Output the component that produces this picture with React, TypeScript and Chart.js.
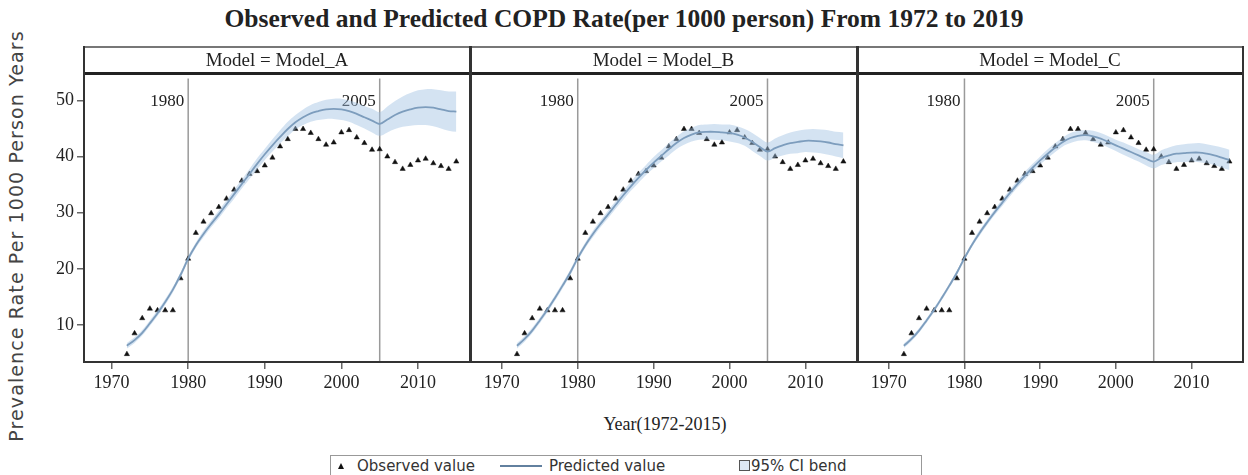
import React, { useEffect, useRef } from "react";
import { Chart, registerables } from "chart.js";

Chart.register(...registerables);

// ---------- data ----------
const years = [
  1972, 1973, 1974, 1975, 1976, 1977, 1978, 1979, 1980, 1981, 1982, 1983, 1984, 1985, 1986,
  1987, 1988, 1989, 1990, 1991, 1992, 1993, 1994, 1995, 1996, 1997, 1998, 1999, 2000, 2001,
  2002, 2003, 2004, 2005, 2006, 2007, 2008, 2009, 2010, 2011, 2012, 2013, 2014, 2015,
];

const observed = [
  4.8, 8.5, 11.2, 12.9, 12.6, 12.6, 12.6, 18.3, 21.8, 26.4, 28.4, 29.9, 31.0, 32.5, 34.1,
  35.7, 36.9, 37.4, 38.4, 39.8, 41.8, 43.1, 44.9, 44.9, 44.2, 43.1, 42.1, 42.5, 44.3, 44.7,
  43.4, 42.4, 41.2, 41.3, 40.0, 39.0, 37.8, 38.5, 39.3, 39.6, 38.8, 38.3, 37.8, 39.1,
];

const predA = [
  6.3, 7.3, 8.6, 10.3, 12.1, 14.1, 16.3, 18.9, 21.8, 24.2, 26.2, 28.0, 29.7, 31.5, 33.3,
  35.1, 36.9, 38.7, 40.4, 42.0, 43.5, 44.9, 46.1, 47.0, 47.7, 48.1, 48.4, 48.5, 48.4, 48.1,
  47.6, 47.0, 46.4, 45.8, 46.6, 47.4, 48.0, 48.4, 48.7, 48.8, 48.7, 48.4, 48.1, 48.0,
];
const lowA = [
  5.8, 6.8, 8.1, 9.8, 11.6, 13.6, 15.8, 18.4, 21.3, 23.7, 25.6, 27.4, 29.0, 30.8, 32.5,
  34.3, 36.0, 37.7, 39.4, 40.9, 42.3, 43.6, 44.8, 45.6, 46.2, 46.5, 46.7, 46.7, 46.5, 46.2,
  45.6, 45.0, 44.3, 43.7, 44.3, 44.9, 45.3, 45.5, 45.6, 45.6, 45.4, 45.0, 44.6, 44.4,
];
const highA = [
  6.8, 7.8, 9.1, 10.8, 12.6, 14.6, 16.8, 19.4, 22.3, 24.7, 26.8, 28.6, 30.4, 32.2, 34.1,
  35.9, 37.8, 39.7, 41.4, 43.1, 44.7, 46.2, 47.4, 48.4, 49.2, 49.7, 50.1, 50.3, 50.3, 50.0,
  49.6, 49.0, 48.5, 47.9, 48.9, 49.9, 50.7, 51.3, 51.8, 52.0, 52.0, 51.8, 51.6, 51.6,
];

const predB = [
  6.3, 7.5, 9.0, 10.8, 12.7, 14.8, 17.0, 19.3, 21.9, 24.2, 26.2, 28.0, 29.7, 31.4, 33.1,
  34.7, 36.2, 37.6, 38.9, 40.1, 41.3, 42.4, 43.3, 43.9, 44.3, 44.4, 44.4, 44.3, 44.2, 43.9,
  43.4, 42.6, 41.7, 40.9, 41.5, 42.0, 42.4, 42.6, 42.8, 42.8, 42.7, 42.5, 42.2, 42.0,
];
const lowB = [
  5.8, 7.0, 8.5, 10.3, 12.2, 14.3, 16.5, 18.8, 21.4, 23.7, 25.6, 27.4, 29.0, 30.7, 32.3,
  33.9, 35.3, 36.7, 37.9, 39.1, 40.2, 41.3, 42.1, 42.7, 43.0, 43.1, 43.0, 42.9, 42.7, 42.4,
  41.9, 41.0, 40.1, 39.3, 39.8, 40.2, 40.5, 40.6, 40.8, 40.7, 40.6, 40.3, 40.0, 39.7,
];
const highB = [
  6.8, 8.0, 9.5, 11.3, 13.2, 15.3, 17.5, 19.8, 22.4, 24.7, 26.8, 28.6, 30.4, 32.1, 33.9,
  35.5, 37.1, 38.5, 39.9, 41.1, 42.4, 43.5, 44.5, 45.1, 45.6, 45.7, 45.8, 45.7, 45.7, 45.4,
  44.9, 44.2, 43.3, 42.5, 43.2, 43.8, 44.3, 44.6, 44.8, 44.9, 44.8, 44.7, 44.4, 44.3,
];

const predC = [
  6.3, 7.5, 9.0, 10.8, 12.7, 14.8, 17.0, 19.3, 21.9, 24.3, 26.4, 28.3, 30.1, 31.8, 33.5,
  35.1, 36.6, 38.0, 39.3, 40.5, 41.6, 42.6, 43.3, 43.7, 43.8, 43.6, 43.2, 42.6, 42.0, 41.4,
  40.8, 40.2, 39.6, 39.1, 39.8, 40.2, 40.5, 40.6, 40.7, 40.7, 40.5, 40.2, 39.8, 39.4,
];
const lowC = [
  5.9, 7.1, 8.6, 10.4, 12.3, 14.4, 16.6, 18.9, 21.5, 23.9, 25.9, 27.8, 29.6, 31.2, 32.9,
  34.5, 35.9, 37.3, 38.6, 39.7, 40.8, 41.8, 42.4, 42.8, 42.9, 42.6, 42.2, 41.6, 41.0, 40.3,
  39.7, 39.1, 38.4, 37.9, 38.5, 38.8, 39.0, 39.0, 39.1, 39.0, 38.8, 38.5, 38.0, 37.6,
];
const highC = [
  6.7, 7.9, 9.4, 11.2, 13.1, 15.2, 17.4, 19.7, 22.3, 24.7, 26.9, 28.8, 30.6, 32.4, 34.1,
  35.7, 37.3, 38.7, 40.0, 41.3, 42.4, 43.4, 44.2, 44.6, 44.7, 44.6, 44.2, 43.6, 43.0, 42.5,
  41.9, 41.3, 40.8, 40.3, 41.1, 41.6, 42.0, 42.2, 42.3, 42.4, 42.2, 41.9, 41.6, 41.2,
];

const xTicks = [1970, 1980, 1990, 2000, 2010];
const yTicks = [10, 20, 30, 40, 50];
const refYears = [1980, 2005];
const panelLabels = ["Model = Model_A", "Model = Model_B", "Model = Model_C"];

const titleText = "Observed and Predicted COPD Rate(per 1000 person) From 1972 to 2019";
const xTitle = "Year(1972-2015)";
const yTitle = "Prevalence Rate Per 1000 Person Years";
const legendLabels = ["Observed value", "Predicted value", "95% CI bend"];

// ---------- styling ----------
const SERIF = "'Liberation Serif', 'Times New Roman', serif";
const SANS = "'DejaVu Sans', Verdana, sans-serif";
const LINE_COLOR = "#62809f";
const BAND_COLOR = "rgba(160, 192, 226, 0.45)";
const REF_COLOR = "#9a9a9a";

const PANEL_TOP = 74;
const PLOT_H = 288;
const AXIS_H = 40;

const refLinePlugin = {
  id: "refLines",
  beforeDatasetsDraw(chart: any) {
    const { ctx, chartArea, scales } = chart;
    ctx.save();
    ctx.strokeStyle = REF_COLOR;
    ctx.lineWidth = 1.5;
    ctx.fillStyle = "#222";
    ctx.font = `17px ${SERIF}`;
    ctx.textAlign = "right";
    ctx.textBaseline = "middle";
    refYears.forEach((yr) => {
      const x = scales.x.getPixelForValue(yr);
      ctx.beginPath();
      ctx.moveTo(x, chartArea.top);
      ctx.lineTo(x, chartArea.bottom);
      ctx.stroke();
      ctx.fillText(String(yr), x - 4, chartArea.top + 23);
    });
    ctx.restore();
  },
};

type PanelProps = {
  left: number;
  width: number;
  showY: boolean;
  pred: number[];
  low: number[];
  high: number[];
};

function Panel({ left, width, showY, pred, low, high }: PanelProps) {
  const ref = useRef<HTMLCanvasElement>(null);
  useEffect(() => {
    const pts = (arr: number[]) => years.map((x, i) => ({ x, y: arr[i] }));
    const chart = new Chart(ref.current as HTMLCanvasElement, {
      type: "line",
      data: {
        datasets: [
          {
            data: pts(low),
            borderWidth: 0,
            pointRadius: 0,
            fill: false,
            tension: 0.35,
          },
          {
            data: pts(high),
            borderWidth: 0,
            pointRadius: 0,
            fill: "-1",
            backgroundColor: BAND_COLOR,
            tension: 0.35,
          },
          {
            data: pts(pred),
            borderColor: LINE_COLOR,
            borderWidth: 1.8,
            pointRadius: 0,
            fill: false,
            tension: 0.35,
          },
          {
            data: pts(observed),
            showLine: false,
            pointStyle: "triangle",
            pointRadius: 3,
            pointBackgroundColor: "#111",
            pointBorderColor: "#111",
            pointBorderWidth: 0.5,
          },
        ],
      } as any,
      options: {
        responsive: false,
        animation: false,
        layout: { padding: 0 },
        plugins: { legend: { display: false }, tooltip: { enabled: false } },
        scales: {
          x: {
            type: "linear",
            min: 1966.4,
            max: 2016.2,
            afterBuildTicks: (s: any) => {
              s.ticks = xTicks.map((v) => ({ value: v }));
            },
            afterFit: (s: any) => {
              s.height = AXIS_H;
              s.paddingLeft = 0;
              s.paddingRight = 0;
            },
            grid: {
              drawOnChartArea: false,
              drawTicks: true,
              tickLength: 7,
              color: "#666",
              lineWidth: 1.5,
            },
            border: { display: false },
            ticks: {
              autoSkip: false,
              maxRotation: 0,
              padding: 3,
              color: "#222",
              font: { family: SERIF, size: 18 },
              callback: (v: any) => String(v),
            },
          },
          y: {
            display: showY,
            min: 3.4,
            max: 53.9,
            afterBuildTicks: (s: any) => {
              s.ticks = yTicks.map((v) => ({ value: v }));
            },
            afterFit: (s: any) => {
              s.width = showY ? 84 : 0;
              s.paddingTop = 0;
              s.paddingBottom = 0;
            },
            grid: {
              drawOnChartArea: false,
              drawTicks: true,
              tickLength: 7,
              color: "#666",
              lineWidth: 1.5,
            },
            border: { display: false },
            ticks: {
              padding: 3,
              color: "#222",
              font: { family: SERIF, size: 18 },
              callback: (v: any) => String(v),
            },
          },
        },
      } as any,
      plugins: [refLinePlugin],
    });
    return () => chart.destroy();
  }, []);
  return (
    <canvas
      ref={ref}
      width={width}
      height={PLOT_H + AXIS_H}
      style={{ position: "absolute", left, top: PANEL_TOP, width, height: PLOT_H + AXIS_H }}
    />
  );
}

const panels = [
  { left: 84, right: 470 },
  { left: 470, right: 857 },
  { left: 857, right: 1243 },
];

export default function App() {
  const abs = (s: React.CSSProperties): React.CSSProperties => ({ position: "absolute", ...s });
  return (
    <div
      style={{
        position: "absolute",
        left: 0,
        top: 0,
        width: 1248,
        height: 475,
        overflow: "hidden",
        background: "#fff",
      }}
    >
      {/* title */}
      <div
        style={abs({
          left: 0,
          top: 4,
          width: 1248,
          textAlign: "center",
          fontFamily: SERIF,
          fontWeight: "bold",
          fontSize: 25.5,
          lineHeight: "30px",
          color: "#222",
        })}
      >
        {titleText}
      </div>

      {/* y title */}
      <div
        style={abs({
          left: 16 - 230,
          top: 236 - 12,
          width: 460,
          height: 24,
          lineHeight: "24px",
          textAlign: "center",
          transform: "rotate(-90deg)",
          fontFamily: SANS,
          fontSize: 19,
          letterSpacing: 1.1,
          color: "#444",
          whiteSpace: "nowrap",
        })}
      >
        {yTitle}
      </div>

      {/* charts */}
      <Panel left={0} width={470} showY={true} pred={predA} low={lowA} high={highA} />
      <Panel left={470} width={387} showY={false} pred={predB} low={lowB} high={highB} />
      <Panel left={857} width={386} showY={false} pred={predC} low={lowC} high={highC} />

      {/* frames */}
      <div style={abs({ left: 83, top: 46, width: 1161, height: 1.5, background: "#777" })} />
      <div style={abs({ left: 83, top: 72, width: 1161, height: 3, background: "#222" })} />
      <div style={abs({ left: 83, top: 361, width: 1161, height: 2, background: "#333" })} />
      <div style={abs({ left: 83, top: 46, width: 2, height: 317, background: "#333" })} />
      <div style={abs({ left: 1242, top: 46, width: 2, height: 317, background: "#333" })} />
      <div style={abs({ left: 469, top: 46, width: 2.5, height: 317, background: "#333" })} />
      <div style={abs({ left: 856, top: 46, width: 2.5, height: 317, background: "#333" })} />

      {/* panel headers */}
      {panels.map((p, i) => (
        <div
          key={i}
          style={abs({
            left: p.left,
            top: 47,
            width: p.right - p.left,
            height: 25,
            lineHeight: "25px",
            textAlign: "center",
            fontFamily: SERIF,
            fontSize: 19,
            color: "#222",
          })}
        >
          {panelLabels[i]}
        </div>
      ))}

      {/* x title */}
      <div
        style={abs({
          left: 465,
          top: 412,
          width: 400,
          textAlign: "center",
          fontFamily: SERIF,
          fontSize: 18,
          lineHeight: "24px",
          color: "#222",
        })}
      >
        {xTitle}
      </div>

      {/* legend */}
      <div
        style={abs({
          left: 330,
          top: 455,
          width: 592,
          height: 30,
          border: "1px solid #999",
          boxSizing: "border-box",
          fontFamily: SANS,
          fontSize: 15,
          color: "#333",
        })}
      >
        <svg style={abs({ left: 6, top: 6 })} width="8" height="8">
          <polygon points="4,1 7,7 1,7" fill="#111" />
        </svg>
        <div style={abs({ left: 26, top: 1, lineHeight: "18px", whiteSpace: "nowrap" })}>
          {legendLabels[0]}
        </div>
        <div style={abs({ left: 169, top: 9, width: 42, height: 2, background: LINE_COLOR })} />
        <div style={abs({ left: 218, top: 1, lineHeight: "18px", whiteSpace: "nowrap" })}>
          {legendLabels[1]}
        </div>
        <div
          style={abs({
            left: 408,
            top: 4,
            width: 11,
            height: 11,
            border: "1px solid #555",
            background: "rgba(160, 192, 226, 0.35)",
            boxSizing: "border-box",
          })}
        />
        <div style={abs({ left: 420, top: 1, lineHeight: "18px", whiteSpace: "nowrap" })}>
          {legendLabels[2]}
        </div>
      </div>
    </div>
  );
}
